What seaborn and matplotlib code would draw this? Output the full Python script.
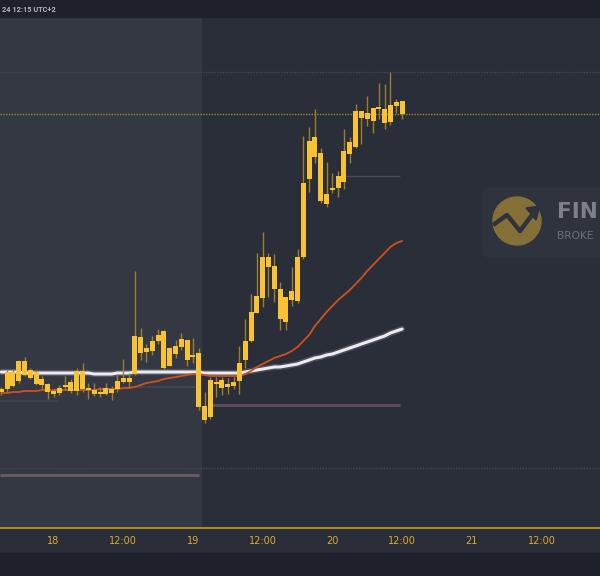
import matplotlib
matplotlib.use("Agg")
import numpy as np
import pandas as pd
import matplotlib.pyplot as plt
import seaborn as sns
from matplotlib.patches import FancyBboxPatch, Ellipse, Rectangle, Polygon

# hourly candles, first one is 17th 15:00, last one 20th 12:00
opens = [100.8, 101.1, 102.8, 101.9, 103.9, 102.2, 102.8, 102.1, 101.6, 100.9,
         100.7, 101.3, 101.8, 100.9, 102.9, 101.2, 101.0, 100.6, 100.6, 101.1,
         101.1, 101.8, 102.2, 102.6, 106.3, 104.8, 104.9, 105.9, 106.9, 103.4,
         104.6, 105.3, 106.0, 104.3, 104.7, 99.4, 98.3, 101.8, 102.0, 101.3,
         101.4, 101.9, 104.0, 105.9, 108.7, 110.2, 114.3, 113.4, 111.1, 107.8,
         110.0, 109.9, 114.3, 122.1, 126.3, 124.7, 119.6, 121.0, 121.2, 121.8,
         124.6, 125.3, 128.9, 128.1, 129.2, 129.1, 129.1, 127.8, 129.4, 129.9]
highs = [101.3, 103.0, 103.1, 104.0, 104.3, 103.2, 103.0, 102.4, 101.7, 101.1,
         101.5, 102.4, 102.1, 103.2, 103.7, 101.7, 101.7, 101.3, 101.7, 101.4,
         102.5, 104.1, 102.7, 112.9, 107.2, 105.6, 106.4, 107.1, 107.0, 105.3,
         106.0, 106.7, 106.0, 106.2, 105.2, 100.8, 102.3, 102.3, 102.3, 102.2,
         102.3, 105.4, 108.1, 110.6, 114.7, 116.8, 114.7, 114.6, 111.8, 110.3,
         113.3, 115.1, 126.4, 127.3, 129.1, 125.2, 123.8, 122.7, 122.9, 127.1,
         126.3, 129.6, 128.9, 130.4, 129.2, 131.7, 131.6, 132.8, 130.1, 129.9]
lows = [100.5, 100.8, 101.3, 101.7, 102.4, 102.1, 101.5, 101.1, 100.1, 100.3,
        100.5, 101.0, 100.7, 100.5, 100.8, 100.1, 100.4, 100.3, 100.5, 100.0,
        100.8, 101.7, 101.2, 102.5, 104.0, 103.8, 104.5, 105.6, 103.1, 103.4,
        104.2, 105.0, 103.4, 103.7, 99.0, 97.7, 98.1, 100.3, 100.5, 100.6,
        101.1, 100.6, 103.2, 105.8, 108.7, 109.3, 110.3, 109.8, 107.0, 107.0,
        109.4, 109.7, 114.1, 120.8, 123.7, 119.7, 119.3, 120.7, 120.3, 121.1,
        123.7, 125.2, 125.6, 127.4, 126.7, 128.1, 127.1, 127.5, 128.7, 128.1]
closes = [101.1, 102.8, 101.4, 103.9, 102.5, 103.0, 101.6, 101.5, 100.8, 100.6,
          101.2, 101.5, 100.9, 102.9, 101.1, 101.0, 100.6, 100.8, 101.2, 100.7,
          101.9, 102.2, 101.8, 106.4, 104.7, 105.2, 105.9, 106.5, 103.2, 105.2,
          105.4, 106.1, 104.0, 104.5, 99.3, 98.0, 102.0, 101.6, 101.2, 101.6,
          101.8, 103.7, 105.9, 108.8, 110.4, 114.3, 113.3, 111.1, 108.1, 110.3,
          110.9, 114.3, 121.7, 125.9, 124.3, 119.9, 120.6, 121.2, 122.4, 124.9,
          125.8, 128.9, 128.2, 128.7, 127.9, 129.3, 127.7, 129.5, 129.8, 128.6]

# moving averages
ma_fast = [100.7, 100.7, 100.8, 100.8, 100.9, 100.9, 100.9, 101.0, 101.0, 101.0,
           101.0, 101.0, 101.0, 101.0, 101.0, 101.0, 101.0, 101.1, 101.1, 101.1,
           101.1, 101.2, 101.2, 101.3, 101.5, 101.7, 101.8, 101.9, 102.1, 102.2,
           102.3, 102.4, 102.5, 102.6, 102.6, 102.5, 102.4, 102.4, 102.4, 102.4,
           102.4, 102.4, 102.6, 102.9, 103.3, 103.6, 103.9, 104.2, 104.4, 104.6,
           104.9, 105.3, 105.9, 106.5, 107.4, 108.1, 108.8, 109.4, 110.0, 110.5,
           111.0, 111.6, 112.2, 112.9, 113.5, 114.1, 114.7, 115.3, 115.7, 115.9]
ma_slow = [102.8, 102.8, 102.8, 102.8, 102.7, 102.7, 102.7, 102.7, 102.7, 102.7,
           102.7, 102.7, 102.7, 102.7, 102.7, 102.7, 102.6, 102.6, 102.6, 102.6,
           102.7, 102.7, 102.7, 102.8, 102.8, 102.8, 102.8, 102.8, 102.8, 102.8,
           102.8, 102.8, 102.8, 102.8, 102.8, 102.7, 102.7, 102.7, 102.7, 102.7,
           102.7, 102.7, 102.8, 102.9, 103.0, 103.1, 103.2, 103.3, 103.3, 103.4,
           103.5, 103.6, 103.8, 104.0, 104.2, 104.3, 104.5, 104.6, 104.8, 105.0,
           105.2, 105.4, 105.6, 105.8, 106.0, 106.2, 106.4, 106.7, 106.9, 107.1]

tick_pos = [9, 21, 33, 45, 57, 69, 81, 93]
tick_labels = ["18", "12:00", "19", "12:00", "20", "12:00", "21", "12:00"]

# horizontal levels
dotted_levels = [132.8, 93.2]
resist_level = 122.4
support_level = 99.5
prev_low_level = 92.5
old_levels = [99.9, 101.3]

df = pd.DataFrame({"open": opens, "high": highs, "low": lows, "close": closes,
                   "ma_fast": ma_fast, "ma_slow": ma_slow})
df["i"] = np.arange(len(df))

sns.set_theme(style="dark", rc={"axes.facecolor": "#2a2e39",
                                "figure.facecolor": "#2a2e39"})
plt.rcParams["font.family"] = ["DejaVu Sans"]

fig = plt.figure(figsize=(6, 5.76), dpi=100)
ax = fig.add_axes([0, 48 / 576, 1, 511 / 576])
ax.set_xlim(-0.22, 103.08)
ax.set_ylim(87.2, 138.3)

# header / footer bars
fig.patches.append(Rectangle((0, 1 - 17 / 576), 1, 17 / 576, transform=fig.transFigure,
                             color="#1e212a", zorder=0))
fig.patches.append(Rectangle((0, 0), 1, 23 / 576, transform=fig.transFigure,
                             color="#1e212a", zorder=0))
fig.text(1.5 / 600, 1 - 9.5 / 576, "24 12:15 UTC+2", ha="left", va="center",
         fontsize=5.3, color="#b4b7c0", fontweight="bold", family=["Roboto", "DejaVu Sans"])

# lighter session on the left
ax.axvspan(-0.22, 34.5, color="#343843", zorder=0, lw=0)

for lv in dotted_levels:
    ax.axhline(lv, color="#454954", lw=1, ls=(0, (1, 1)), zorder=1)
ax.hlines(prev_low_level, -0.22, 34.0, color="#6a5a62", lw=2, zorder=1)
ax.hlines(support_level, 36.3, 68.6, color="#5e5259", lw=2, zorder=1)
ax.hlines(resist_level, 59.2, 68.6, color="#474b55", lw=1, zorder=1)
ax.hlines(old_levels[0], -0.22, 10, color="#41454f", lw=1.2, zorder=1)
ax.hlines(old_levels[1], 22, 33.5, color="#464a54", lw=1.2, zorder=1)
ax.axhline(closes[-1], color="#a8862c", lw=1, ls=(0, (1, 1)), zorder=1)

# moving averages
sns.lineplot(data=df, x="i", y="ma_slow", ax=ax, color="#ffffff", lw=4.5,
             alpha=0.15, zorder=2)
sns.lineplot(data=df, x="i", y="ma_slow", ax=ax, color="#ececf0", lw=2.2, zorder=3)
sns.lineplot(data=df, x="i", y="ma_fast", ax=ax, color="#d2501b", lw=1.3, zorder=3)

# candles
ax.vlines(df["i"], df["low"], df["high"], color="#9c7f2e", lw=1, zorder=4)
body_lo = df[["open", "close"]].min(axis=1)
body_h = (df["close"] - df["open"]).abs().clip(lower=0.15)
ax.bar(df["i"], body_h, bottom=body_lo, width=0.86, color="#f9c232", lw=0, zorder=5)

# watermark
fig.patches.append(FancyBboxPatch((483 / 600, 1 - 257 / 576), 0.3, 69 / 576,
                                  boxstyle="round,pad=0,rounding_size=0.01",
                                  transform=fig.transFigure, color="#2f333e",
                                  zorder=1.5))
fig.patches.append(Ellipse((517 / 600, 1 - 221 / 576), 48 / 600, 48 / 576,
                           transform=fig.transFigure, color="#857037", zorder=1.6))
zx = np.array([493, 507, 520, 532]) / 600
zy = 1 - np.array([225, 215, 231, 215]) / 576
fig.lines.append(plt.Line2D(zx, zy, transform=fig.transFigure, color="#2f333e",
                            lw=3.2, zorder=1.7, solid_capstyle="butt"))
fig.patches.append(Polygon([(526 / 600, 1 - 208 / 576), (540 / 600, 1 - 206 / 576),
                            (536 / 600, 1 - 220 / 576)], closed=True,
                           transform=fig.transFigure, color="#2f333e", zorder=1.7))
fig.text(557 / 600, 1 - 218 / 576, "FIN", ha="left", va="baseline",
         fontsize=15.5, fontweight="bold", color="#7d8089", zorder=1.8)
fig.text(557 / 600, 1 - 239 / 576, "BROKE", ha="left", va="baseline",
         fontsize=7.6, color="#6c6f78", zorder=1.8)

# axes styling
for side in ["top", "left", "right"]:
    ax.spines[side].set_visible(False)
ax.spines["bottom"].set_color("#c09416")
ax.spines["bottom"].set_linewidth(1.3)
ax.set_xticks(tick_pos)
ax.set_xticklabels(tick_labels, fontsize=7, color="#dcaa32")
ax.tick_params(axis="x", length=0, pad=6)
ax.set_yticks([])
ax.set_xlabel("")
ax.set_ylabel("")
ax.grid(False)

fig.savefig("out.png", dpi=100)
